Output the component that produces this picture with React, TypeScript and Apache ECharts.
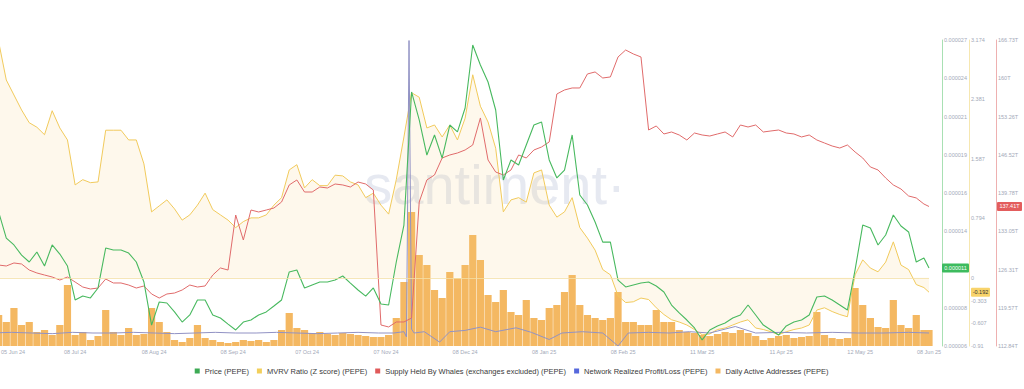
import React, { useEffect, useRef } from 'react';
import * as echarts from 'echarts';

const DAY = 86400000;
const START = Date.UTC(2024, 5, 5);
const END = Date.UTC(2025, 5, 8);
const STEP_DAYS = 3;

// Price (PEPE) in micro-USD (value x 1e-6), one sample every 3 days, last one 08 Jun 25
const PRICE_MICRO = [
  15.37, 14.88, 13.08, 12.6, 11.9, 11.42, 12.11, 11.14, 12.6, 11.97,
  11.14, 8.79, 9.06, 8.93, 9.62, 12.39, 12.25, 12.25, 12.04, 11.42,
  10.03, 7.05, 8.65, 8.58, 7.96, 7.26, 7.75, 8.79, 8.79, 7.75,
  7.54, 7.12, 6.71, 7.26, 7.4, 7.75, 7.96, 8.37, 8.79, 10.73,
  10.87, 9.62, 9.83, 10.03, 10.03, 10.17, 10.45, 9.96, 9.48, 9.06,
  9.62, 8.51, 8.44, 11.42, 13.98, 23.2, 21.26, 18.83, 20.22, 18.62,
  20.91, 20.43, 22.09, 26.45, 25.07, 23.89, 21.95, 17.1, 18.49, 18.14,
  19.53, 20.91, 21.12, 18.49, 17.24, 17.79, 20.22, 16.06, 15.37, 14.19,
  12.8, 12.8, 10.17, 9.69, 9.83, 9.96, 10.03, 9.76, 9.34, 8.44,
  7.89, 7.4, 6.85, 6.02, 6.71, 6.99, 7.19, 7.54, 7.75, 8.44,
  7.75, 7.05, 6.71, 6.36, 6.99, 7.26, 7.4, 7.75, 8.99, 9.06,
  8.79, 8.44, 8.09, 10.87, 13.98, 13.78, 12.6, 13.29, 14.68, 13.91,
  13.5, 11.42, 11.7, 11.0,
];

// MVRV Ratio (Z score)
const MVRV = [
  3.17, 3.15, 2.64, 2.44, 2.24, 2.07, 2.01, 1.91, 2.23, 2.0,
  1.84, 1.24, 1.31, 1.27, 1.28, 1.97, 1.97, 1.97, 1.84, 1.84,
  1.52, 0.88, 0.96, 1.04, 0.92, 0.77, 0.84, 0.97, 1.13, 0.91,
  0.84, 0.77, 0.67, 0.75, 0.8, 0.8, 0.84, 0.97, 1.07, 1.44,
  1.51, 1.2, 1.31, 1.23, 1.23, 1.37, 1.36, 1.28, 1.24, 1.07,
  1.13, 0.97, 0.85, 1.31, 1.88, 2.47, 2.41, 2.0, 2.04, 1.88,
  2.04, 1.84, 2.13, 2.71, 2.29, 2.08, 1.73, 0.88, 1.04, 1.07,
  1.01, 1.4, 1.44, 0.97, 0.81, 0.88, 1.07, 0.67, 0.53, 0.37,
  0.11, 0.04, -0.24, -0.33, -0.32, -0.27, -0.29, -0.4, -0.49, -0.56,
  -0.59, -0.63, -0.69, -0.76, -0.75, -0.69, -0.67, -0.63, -0.59, -0.56,
  -0.67, -0.69, -0.72, -0.76, -0.72, -0.69, -0.67, -0.63, -0.43, -0.4,
  -0.45, -0.49, -0.52, 0.04, 0.24, 0.13, 0.08, 0.21, 0.48, 0.17,
  0.11, -0.09, -0.13, -0.192,
];

// Supply Held By Whales (exchanges excluded), trillions
const WHALE_T = [
  127.1, 127.1, 126.93, 127.46, 127.28, 126.22, 125.7, 125.34, 124.99, 124.46,
  124.99, 124.11, 123.23, 122.88, 123.05, 124.64, 123.94, 123.94, 123.58, 123.05,
  123.41, 122.0, 121.29, 122.0, 122.17, 122.7, 123.58, 123.23, 123.41, 125.34,
  126.58, 126.22, 135.91, 131.51, 136.79, 136.44, 136.79, 137.14, 138.2, 141.2,
  142.08, 139.96, 139.96, 140.84, 140.67, 141.37, 141.2, 140.84, 141.72, 141.37,
  140.31, 116.54, 116.19, 117.07, 117.07, 117.77, 138.2, 142.08, 142.96, 145.95,
  146.48, 146.83, 147.36, 148.24, 153.0, 145.6, 143.48, 142.96, 143.84, 146.48,
  145.95, 147.36, 147.89, 148.77, 157.22, 157.93, 158.28, 158.28, 160.75, 161.1,
  160.04, 160.22, 163.74, 164.97, 164.27, 163.74, 150.88, 151.59, 150.18, 150.53,
  150.0, 149.12, 150.35, 150.0, 149.82, 150.18, 150.53, 149.65, 151.76, 151.41,
  151.76, 150.53, 150.71, 150.88, 150.35, 150.18, 149.65, 150.0, 149.12, 148.59,
  148.06, 147.71, 148.24, 147.01, 145.95, 144.37, 143.84, 142.43, 141.2, 140.49,
  139.26, 138.91, 137.85, 137.41,
];

// Daily Active Addresses
const DAA = [
  2800, 3100, 2400, 3800, 2100, 2400, 1400, 1600, 1100, 2100,
  6100, 1100, 1400, 600, 1000, 3600, 1400, 1100, 1800, 1100,
  1200, 3800, 2400, 1400, 600, 400, 800, 2100, 800, 600,
  400, 300, 400, 600, 500, 600, 400, 600, 1600, 3300,
  1800, 1600, 1300, 1400, 1200, 1100, 1300, 1200, 1100, 1000,
  900, 900, 1100, 2800, 6400, 13400, 9100, 8100, 5600, 4800,
  7400, 6800, 8100, 11100, 8600, 5100, 4400, 5600, 3400, 3100,
  4600, 2800, 2600, 3800, 4100, 5400, 7100, 4100, 3100, 2800,
  2600, 2800, 5400, 2400, 2400, 2100, 2100, 3600, 2400, 2400,
  1600, 1400, 1300, 1100, 1000, 1200, 1400, 1300, 1600, 1300,
  1000, 600, 800, 1000, 1100, 800, 900, 1000, 3400, 1100,
  800, 700, 800, 5800, 4100, 2800, 1900, 1800, 4600, 2100,
  1800, 3100, 1600, 1600,
];

// Network Realized Profit/Loss: day offsets from 05 Jun 24 and values
const NRPL_DAYS = [
  0, 8, 16, 24, 32, 40, 48, 56, 64, 72, 80, 88, 96, 104, 112, 120, 128, 136, 144, 152,
  158, 162, 163, 164, 165, 166, 170, 176, 180, 186, 192, 198, 206, 212, 219, 224, 232,
  240, 246, 250, 258, 266, 274, 282, 292, 300, 310, 320, 330, 340, 350, 360, 368,
];
const NRPL = [
  0, 0.05, 0, -0.05, 0.05, 0, 0, 0.05, 0, -0.05, 0, 0.05, 0, 0, 0.05, 0, -0.05, 0, 0.05, 0,
  0, 0.1, -0.3, 22.5, 0.3, 0, 0.1, -0.7, 0.1, 0.2, 0.45, 0.1, 0.4, 0.05, -0.5, 0, 0.1,
  0, -1.0, 0, 0.05, 0, 0.1, 0, 0.5, 0, 0.05, 0, 0.05, 0, 0, 0.05, 0,
];

const PRICE_MIN = 5.6e-6;
const PRICE_MAX = 26.8e-6;
const PRICE_TICK_LABELS = ['0.000006', '0.000008', '0.000011', '0.000014', '0.000016', '0.000019', '0.000021', '0.000024', '0.000027'];
const MVRV_MIN = -0.91;
const MVRV_MAX = 3.174;
const MVRV_TICKS = [-0.91, -0.607, -0.303, 0, 0.794, 1.587, 2.381, 3.174];
const WHALE_MIN = 112.84;
const WHALE_MAX = 166.73;
const WHALE_TICK_LABELS = ['112.84T', '119.57T', '126.31T', '133.05T', '139.78T', '146.52T', '153.26T', '160T', '166.73T'];
const X_LABEL_DATES = ['2024-06-05', '2024-07-08', '2024-08-08', '2024-09-08', '2024-10-07', '2024-11-07', '2024-12-08', '2025-01-08', '2025-02-08', '2025-03-11', '2025-04-11', '2025-05-12', '2025-06-08'];

const SERIES_NAMES = ['Price (PEPE)', 'MVRV Ratio (Z score) (PEPE)', 'Supply Held By Whales (exchanges excluded) (PEPE)', 'Network Realized Profit/Loss (PEPE)', 'Daily Active Addresses (PEPE)'];

const MONTHS = ['Jan', 'Feb', 'Mar', 'Apr', 'May', 'Jun', 'Jul', 'Aug', 'Sep', 'Oct', 'Nov', 'Dec'];
const FONT = '"Liberation Sans", Arial, Helvetica, sans-serif';
const LABEL_COLOR = '#a3a9b8';

function fmtDate(v: number) {
  const d = new Date(v);
  return String(d.getUTCDate()).padStart(2, '0') + ' ' + MONTHS[d.getUTCMonth()] + ' ' + String(d.getUTCFullYear()).slice(2);
}

export default function App() {
  const ref = useRef<HTMLDivElement>(null);

  useEffect(() => {
    document.body.style.margin = '0';
    if (!ref.current) return;
    const chart = echarts.init(ref.current, undefined, { renderer: 'svg' });

    const n = PRICE_MICRO.length;
    const DATES = PRICE_MICRO.map((_, i) => (i === n - 1 ? END : START + i * STEP_DAYS * DAY));
    const priceStep = (PRICE_MAX - PRICE_MIN) / 8;
    const priceTicks = PRICE_TICK_LABELS.map((_, i) => PRICE_MIN + i * priceStep);
    const whaleStep = (WHALE_MAX - WHALE_MIN) / 8;
    const whaleTicks = WHALE_TICK_LABELS.map((_, i) => WHALE_MIN + i * whaleStep);
    const xTicks = X_LABEL_DATES.map((s) => Date.parse(s));

    const axisLabelBase = { fontSize: 5.5, color: LABEL_COLOR, fontFamily: FONT, margin: 2 };
    const yBase = {
      type: 'value',
      position: 'right',
      splitLine: { show: false },
      axisTick: { show: false },
    };

    chart.setOption({
      animation: false,
      textStyle: { fontFamily: FONT },
      grid: { left: -9, right: 95, top: 40, bottom: 43, containLabel: false, outerBoundsMode: 'none' },
      legend: {
        top: 367,
        left: 'center',
        padding: 0,
        itemWidth: 5,
        itemHeight: 5,
        itemGap: 8,
        icon: 'rect',
        textStyle: { fontSize: 7.5, color: '#3a3a3a', fontFamily: FONT },
        data: SERIES_NAMES,
      },
      xAxis: {
        type: 'value',
        min: START,
        max: END,
        axisLine: { show: false, onZero: false },
        axisTick: { show: false },
        splitLine: { show: false },
        axisLabel: {
          customValues: xTicks,
          fontSize: 5.5,
          color: LABEL_COLOR,
          fontFamily: FONT,
          margin: 3,
          alignMinLabel: 'left',
          formatter: (v: number) => (v === xTicks[0] ? '{first|' + fmtDate(v) + '}' : fmtDate(v)),
          rich: { first: { fontSize: 5.5, color: LABEL_COLOR, fontFamily: FONT, padding: [0, 0, 0, 10] } },
        },
      },
      yAxis: [
        {
          ...yBase,
          min: PRICE_MIN,
          max: PRICE_MAX,
          offset: 13,
          axisLine: { show: true, onZero: false, lineStyle: { color: '#a8e0b3', width: 1 } },
          axisLabel: {
            ...axisLabelBase,
            customValues: priceTicks,
            formatter: (v: number) => PRICE_TICK_LABELS[Math.round((v - PRICE_MIN) / priceStep)] || '',
          },
        },
        {
          ...yBase,
          min: MVRV_MIN,
          max: MVRV_MAX,
          offset: 40,
          axisLine: { show: true, onZero: false, lineStyle: { color: '#f6e7b0', width: 1 } },
          axisLabel: { ...axisLabelBase, customValues: MVRV_TICKS, formatter: (v: number) => String(v) },
        },
        {
          ...yBase,
          min: WHALE_MIN,
          max: WHALE_MAX,
          offset: 67,
          axisLine: { show: true, onZero: false, lineStyle: { color: '#eeb0b0', width: 1 } },
          axisLabel: {
            ...axisLabelBase,
            customValues: whaleTicks,
            formatter: (v: number) => WHALE_TICK_LABELS[Math.round((v - WHALE_MIN) / whaleStep)] || '',
          },
        },
        { type: 'value', show: false, min: -1, max: 22.54, splitLine: { show: false } },
        { type: 'value', show: false, min: 0, max: 30600, splitLine: { show: false } },
      ],
      series: [
        {
          name: SERIES_NAMES[4],
          type: 'bar',
          yAxisIndex: 4,
          barWidth: 7.2,
          silent: true,
          itemStyle: { color: '#f4b862' },
          data: DATES.map((d, i) => [d, DAA[i]]),
        },
        {
          name: SERIES_NAMES[1],
          type: 'line',
          yAxisIndex: 1,
          showSymbol: false,
          silent: true,
          lineStyle: { color: '#f1ca5c', width: 1 },
          itemStyle: { color: '#f2cf5b' },
          areaStyle: { color: 'rgba(247, 206, 120, 0.2)', origin: 0 },
          markLine: {
            silent: true,
            symbol: 'none',
            label: { show: false },
            lineStyle: { color: '#f4dfa6', width: 0.8, type: 'solid' },
            data: [{ yAxis: 0 }],
          },
          data: DATES.map((d, i) => [d, MVRV[i]]),
        },
        {
          name: SERIES_NAMES[3],
          type: 'line',
          yAxisIndex: 3,
          showSymbol: false,
          silent: true,
          lineStyle: { color: '#9192c4', width: 1 },
          itemStyle: { color: '#5668dc' },
          data: NRPL_DAYS.map((dd, i) => [START + dd * DAY, NRPL[i]]),
        },
        {
          name: SERIES_NAMES[2],
          type: 'line',
          yAxisIndex: 2,
          showSymbol: false,
          silent: true,
          lineStyle: { color: '#e06b6b', width: 1 },
          itemStyle: { color: '#e05a5a' },
          data: DATES.map((d, i) => [d, WHALE_T[i]]),
        },
        {
          name: SERIES_NAMES[0],
          type: 'line',
          yAxisIndex: 0,
          showSymbol: false,
          silent: true,
          lineStyle: { color: '#48b95f', width: 1.1 },
          itemStyle: { color: '#3daa55' },
          data: DATES.map((d, i) => [d, PRICE_MICRO[i] * 1e-6]),
        },
      ],
      graphic: [
        {
          id: 'wm',
          type: 'text',
          x: 495,
          y: 184,
          z: 0,
          silent: true,
          style: {
            text: 'santiment·',
            fontSize: 56,
            fontFamily: FONT,
            fill: 'rgba(200, 206, 224, 0.45)',
            align: 'center',
            verticalAlign: 'middle',
          },
        },
      ],
    });

    const last = n - 1;
    const py = chart.convertToPixel({ yAxisIndex: 0 } as any, PRICE_MICRO[last] * 1e-6) as unknown as number;
    const my = chart.convertToPixel({ yAxisIndex: 1 } as any, MVRV[last]) as unknown as number;
    const wy = chart.convertToPixel({ yAxisIndex: 2 } as any, WHALE_T[last]) as unknown as number;

    const badge = (id: string, x: number, y: number, w: number, bg: string, fg: string, text: string) => [
      { id: id + '_r', type: 'rect', z: 10, silent: true, shape: { x, y: y - 4.5, width: w, height: 9, r: 1 }, style: { fill: bg } },
      {
        id: id + '_t',
        type: 'text',
        z: 11,
        silent: true,
        x: x + w / 2,
        y,
        style: { text, fill: fg, fontSize: 5.5, fontFamily: FONT, align: 'center', verticalAlign: 'middle' },
      },
    ];

    chart.setOption({
      graphic: [
        ...badge('bp', 942, py, 27, '#3dbb5e', '#ffffff', (PRICE_MICRO[last] * 1e-6).toFixed(6)),
        ...badge('bm', 971, my, 19, '#f8d36b', '#333333', MVRV[last].toFixed(3)),
        ...badge('bw', 997, wy, 25, '#e35d5d', '#ffffff', WHALE_T[last].toFixed(2) + 'T'),
      ],
    });

    return () => chart.dispose();
  }, []);

  return <div ref={ref} style={{ width: 1024, height: 389 }} />;
}
